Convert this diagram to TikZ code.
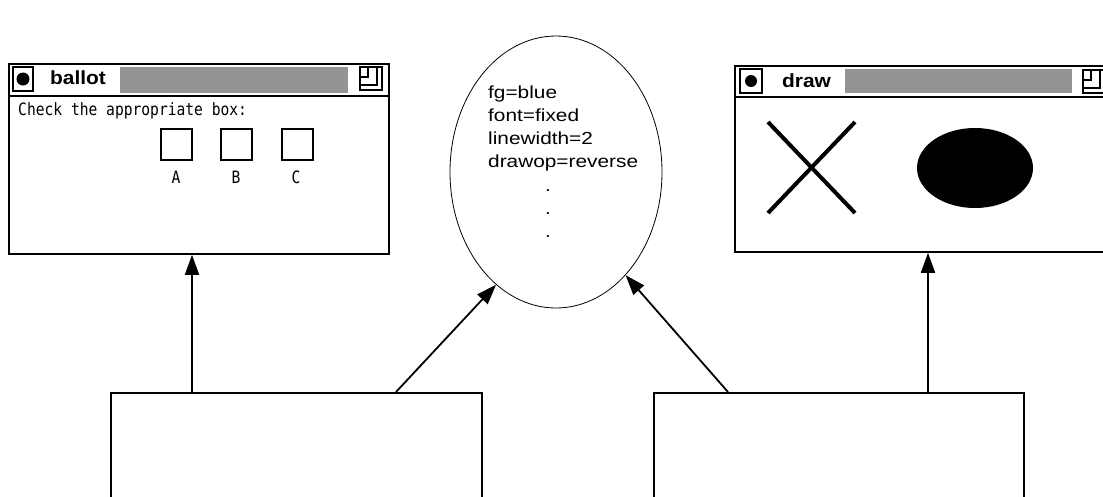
\documentclass[tikz,border=0pt]{standalone}
\usepackage{fontspec}
\setmainfont{Liberation Sans}
\newfontfamily\attrfont[FakeStretch=1.19]{Liberation Sans}
\newfontfamily\titlefont[FakeStretch=1.1]{Liberation Sans}
\newfontfamily\pixfont[FakeStretch=0.86]{DejaVu Sans Mono}
\usetikzlibrary{shapes.geometric,arrows.meta,calc}

\tikzset{
  frame/.style={draw, line width=1.8pt, inner sep=0pt, anchor=north west},
  arr/.style={line width=1.8pt, -{Triangle[length=20pt,width=14pt]}},
  stipple/.style={fill=black!42},
  iconline/.style={line width=1.4pt},
  chk/.style={draw, line width=1.6pt, minimum size=31pt, inner sep=0pt},
  wintitle/.style={anchor=base west, inner sep=0pt, font=\titlefont\bfseries\fontsize{19}{22}\selectfont},
  pixtext/.style={inner sep=0pt, font=\pixfont\fontsize{17}{20}\selectfont},
  attrline/.style={anchor=base west, inner sep=0pt, font=\attrfont\fontsize{17.5}{23}\selectfont},
  attrdot/.style={anchor=base, inner sep=0pt, font=\attrfont\fontsize{17.5}{23}\selectfont},
}

\begin{document}
\begin{tikzpicture}[x=1pt, y=-1pt]
\fill[white] (0,0) rectangle (1103,496);
\useasboundingbox (0,0) rectangle (1103,496);

% ---------- ballot window ----------
\node[frame, minimum width=380pt, minimum height=190pt] (ballotwin) at (8,63) {};
\draw[line width=1.6pt] (8,96) -- (388,96);
\draw[iconline] (13,67) rectangle (33,91);
\fill (23,79) circle[radius=6.5pt];
\node[wintitle] (ballottitle) at (50,84) {ballot};
\fill[stipple] (120,67) rectangle (348,93);
\draw[iconline] (360,67) rectangle (382,90);
\draw[iconline] (360,85) -- (377,85) -- (377,67);
\draw[iconline] (360,77) -- (368,77) -- (368,67);
\node[pixtext, anchor=base west] (prompt) at (18,115) {Check the appropriate box:};
\node[chk] (ca) at (176.5,144.5) {};
\node[chk] (cb) at (236.5,144.5) {};
\node[chk] (cc) at (297.5,144.5) {};
\node[pixtext, anchor=base] (la) at (176,183) {A};
\node[pixtext, anchor=base] (lb) at (236,183) {B};
\node[pixtext, anchor=base] (lc) at (296,183) {C};

% ---------- draw window ----------
\node[frame, minimum width=380pt, minimum height=186pt] (drawwin) at (734,65) {};
\draw[line width=1.6pt] (734,97) -- (1110,97);
\draw[iconline] (740,69) rectangle (762,93);
\fill (751,81) circle[radius=6pt];
\node[wintitle] (drawtitle) at (782,87) {draw};
\fill[stipple] (845,69) rectangle (1072,93);
\draw[iconline] (1083,70) rectangle (1105,93);
\draw[iconline] (1083,88) -- (1100,88) -- (1100,70);
\draw[iconline] (1083,80) -- (1091,80) -- (1091,70);
\draw[line width=4pt] (768,122) -- (855,213);
\draw[line width=4pt] (855,122) -- (768,213);
\fill (975,168) ellipse[x radius=58pt, y radius=40pt];

% ---------- attribute set ----------
\node[ellipse, draw, line width=0.8pt, minimum width=212pt, minimum height=272pt, inner sep=0pt] (attrs) at (556,172) {};
\node[attrline] (a1) at (488,98) {fg=blue};
\node[attrline] (a2) at (488,121) {font=fixed};
\node[attrline] (a3) at (488,144) {linewidth=2};
\node[attrline] (a4) at (488,167) {drawop=reverse};
\node[attrdot] (d1) at (548,191) {.};
\node[attrdot] (d2) at (548,214) {.};
\node[attrdot] (d3) at (548,237) {.};

% ---------- lower boxes ----------
\node[frame, line width=2pt, minimum width=371pt, minimum height=106pt] (lbox) at (110,392) {};
\node[frame, line width=2pt, minimum width=370pt, minimum height=106pt] (rbox) at (653,392) {};

% ---------- connectors ----------
\draw[arr] ($(lbox.north west)+(82,0)$) -- ($(ballotwin.south west)+(184,0)$);
\draw[arr] ($(lbox.north west)+(286,0)$) -- (attrs.242);
\draw[arr] ($(rbox.north west)+(75,0)$) -- (attrs.304);
\draw[arr] ($(rbox.north west)+(275,0)$) -- ($(drawwin.south west)+(194,0)$);
\end{tikzpicture}
\end{document}
